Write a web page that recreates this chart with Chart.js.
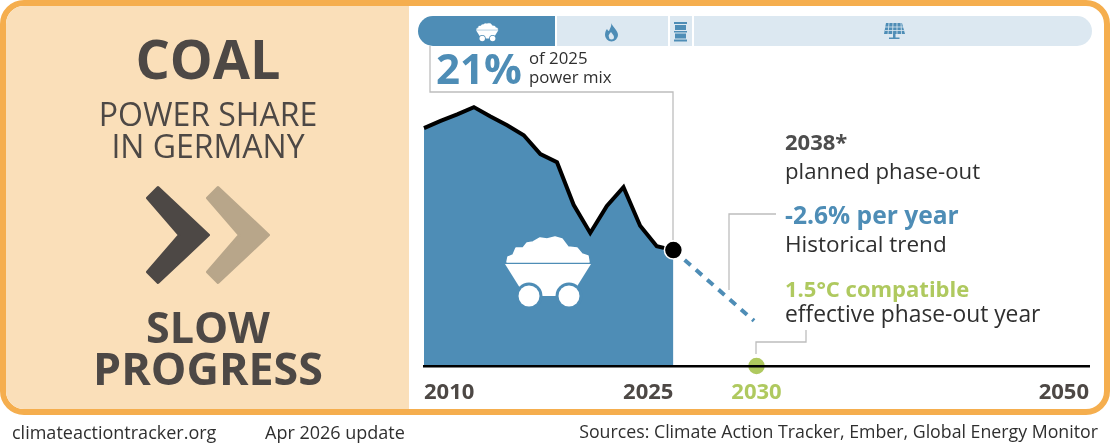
<!DOCTYPE html>
<html>
<head>
<meta charset="utf-8">
<script src="https://cdn.jsdelivr.net/npm/chart.js@4/dist/chart.umd.min.js"></script>
<style>
  html, body { margin: 0; padding: 0; background: #fff; }
  body { width: 1110px; height: 444px; position: relative; overflow: hidden; font-family: "Open Sans", sans-serif; color: #2f2f2f; }
  #frame { position: absolute; left: 0; top: 0; width: 1098px; height: 403px; border: 6px solid #f5ae4e; border-radius: 24px; overflow: hidden; background: #fff; }
  #panel { position: absolute; left: 0; top: 0; width: 403px; height: 403px; background: #fadfb9; }
  canvas { position: absolute; left: 0; top: 0; }
  svg.art { position: absolute; left: 0; top: 0; }
  .t { position: absolute; white-space: nowrap; line-height: 1; }
  .c { transform: translateX(-50%); text-align: center; }
  .head { color: #4d4845; font-weight: 700; }
  .sub { color: #4d4845; }
  .blue { color: #4e8db6; font-weight: 700; }
  .green { color: #afc95f; font-weight: 700; }
  .seg { position: absolute; top: 16px; height: 30px; background: #dce8f1; }
</style>
</head>
<body>
<div id="frame"><div id="panel"></div></div>

<div class="seg" style="left:418px;width:137px;background:#4e8db6;border-radius:15px 0 0 15px"></div>
<div class="seg" style="left:557px;width:111px"></div>
<div class="seg" style="left:670px;width:22px"></div>
<div class="seg" style="left:694px;width:398px;border-radius:0 15px 15px 0"></div>

<canvas id="chart" width="1110" height="444"></canvas>

<svg class="art" width="1110" height="444" viewBox="0 0 1110 444">
  <defs>
    <g id="cart">
      <polygon points="2,26 3,21 8,19 11,12 18,12 22,7 28,6 35,2 42,3 50,1 57,3 63,11 72,12 77,18 83,20 84,26" fill="#fff" stroke="#fff" stroke-width="1.5" stroke-linejoin="round"/>
      <polygon points="0,28 86,28 66,60 20,60" fill="#fff"/>
      <circle cx="24" cy="60" r="13.5" fill="#4e8db6"/>
      <circle cx="64" cy="60" r="13.5" fill="#4e8db6"/>
      <circle cx="24" cy="60" r="10.5" fill="#fff"/>
      <circle cx="64" cy="60" r="10.5" fill="#fff"/>
    </g>
  </defs>
  <polygon points="158,187.5 208.5,235 158,282.5 147.5,272 179.5,235 147.5,198" fill="#4d4845" stroke="#4d4845" stroke-width="3" stroke-linejoin="round"/>
  <polygon points="218,187.5 268.5,235 218,282.5 207.5,272 239.5,235 207.5,198" fill="#b8a68a" stroke="#b8a68a" stroke-width="3" stroke-linejoin="round"/>
  <use href="#cart" transform="translate(505,236)"/>
  <use href="#cart" transform="translate(476,23) scale(0.26)"/>
  <path d="M611 23 C613 27 618 31 618 35 A6.5 6.5 0 0 1 605 35 C605 32 606 30 607 29 C608 31 609 31 609 31 C610 28 612 26 611 23 Z M611 32 C609 34 608 36 609 37 A2.5 2.5 0 0 0 614 37 C614 35 612 34 611 32 Z" fill="#4e8db6" fill-rule="evenodd"/>
  <g fill="#4e8db6">
    <rect x="674" y="22" width="13" height="2"/><rect x="675" y="25" width="11" height="5"/>
    <rect x="674" y="31" width="13" height="1.5"/><rect x="675" y="33.5" width="11" height="5"/>
    <rect x="674" y="39.5" width="13" height="2"/>
    <path d="M886 23 H902 L905 34 H884 Z"/>
    <rect x="893" y="34" width="2.5" height="4"/><rect x="889" y="37.5" width="10.5" height="1.5"/>
  </g>
  <g stroke="#dce8f1" stroke-width="0.8">
    <path d="M889 23 L888 34 M893 23 L892.5 34 M897 23 L897 34 M901 23 L901.5 34 M885 27 H904 M885 30.5 H904" fill="none"/>
  </g>
  <g fill="none" stroke="#bdbdbd" stroke-width="1.3">
    <path d="M430 46 V92 H673 V240"/>
    <path d="M729 290 V214 H776"/>
    <path d="M756 354 V342 H806 V330"/>
  </g>
</svg>

<div class="t c head" style="left:208px;top:31px;font-size:54px">COAL</div>
<div class="t c sub" style="left:208px;top:98px;font-size:32px">POWER SHARE</div>
<div class="t c sub" style="left:208px;top:130px;font-size:32px">IN GERMANY</div>
<div class="t c head" style="left:208px;top:305px;font-size:43px">SLOW</div>
<div class="t c head" style="left:208px;top:346px;font-size:44.8px">PROGRESS</div>

<div class="t blue" style="left:436px;top:47px;font-size:42px">21%</div>
<div class="t" style="left:529px;top:50px;font-size:16.8px">of 2025</div>
<div class="t" style="left:529px;top:69px;font-size:16.8px">power mix</div>

<div class="t" style="left:785px;top:130px;font-size:22px;font-weight:700;color:#4d4d4d">2038*</div>
<div class="t" style="left:785px;top:160px;font-size:22.2px">planned phase-out</div>
<div class="t blue" style="left:785px;top:203px;font-size:24.6px">-2.6% per year</div>
<div class="t" style="left:785px;top:233px;font-size:22.5px">Historical trend</div>
<div class="t green" style="left:785px;top:277px;font-size:22px">1.5°C compatible</div>
<div class="t" style="left:785px;top:303px;font-size:22.8px">effective phase-out year</div>

<div class="t" style="left:12px;top:423px;font-size:18px">climateactiontracker.org</div>
<div class="t" style="left:265px;top:423px;font-size:18px">Apr 2026 update</div>
<div class="t" style="right:12px;top:423px;font-size:17.75px">Sources: Climate Action Tracker, Ember, Global Energy Monitor</div>

<script>
const years = [2010, 2011, 2012, 2013, 2014, 2015, 2016, 2017, 2018, 2019, 2020, 2021, 2022, 2023, 2024, 2025];
const coalShare = [43.1, 44.4, 45.6, 46.9, 45.2, 43.6, 41.8, 38.4, 36.9, 29.2, 24.1, 29.0, 32.4, 25.4, 21.7, 21.0];
const trendYears = [2025, 2029.85];
const trendShare = [21.0, 8.2];
const targetYear = [2030];
const targetShare = [0];
const tickYears = [2010, 2025, 2030, 2050];

const BLUE = '#4e8db6';
const GREEN = '#afc95f';
const DARK = '#4d4845';

function toPoints(xs, ys) {
    return xs.map((x, i) => ({ x: x, y: ys[i] }));
}

// chart.js has no per tick alignment, so the year labels are drawn here from the scale
const yearLabels = {
    id: 'yearLabels',
    afterDraw(chart) {
        const { ctx, scales } = chart;
        ctx.save();
        ctx.font = '700 22px "Open Sans"';
        ctx.textBaseline = 'alphabetic';
        for (const tick of scales.x.ticks) {
            const px = scales.x.getPixelForValue(tick.value);
            ctx.fillStyle = tick.value === targetYear[0] ? GREEN : DARK;
            ctx.textAlign = tick.value === 2010 ? 'left' : tick.value === 2025 || tick.value === 2050 ? 'right' : 'center';
            ctx.fillText(String(tick.value), px, 399);
        }
        ctx.restore();
    }
};

new Chart(document.getElementById('chart'), {
    type: 'line',
    data: {
        datasets: [
            {
                label: 'Target',
                data: toPoints(targetYear, targetShare),
                showLine: false,
                pointRadius: 9,
                pointBackgroundColor: GREEN,
                pointBorderColor: '#fff',
                pointBorderWidth: 1.5,
                clip: false,
                order: 0
            },
            {
                label: 'Coal share',
                data: toPoints(years, coalShare),
                borderColor: '#000',
                borderWidth: 4,
                borderJoinStyle: 'miter',
                backgroundColor: BLUE,
                fill: 'origin',
                tension: 0,
                pointRadius: (c) => c.dataIndex === years.length - 1 ? 9 : 0,
                pointBackgroundColor: '#000',
                pointBorderColor: '#fff',
                pointBorderWidth: 1.5,
                clip: false,
                order: 1
            },
            {
                label: 'Trend',
                data: toPoints(trendYears, trendShare),
                borderColor: BLUE,
                borderWidth: 4,
                borderDash: [8, 7],
                pointRadius: 0,
                fill: false,
                order: 2
            }
        ]
    },
    options: {
        responsive: false,
        animation: false,
        layout: { padding: { left: 424, right: 21, top: 90, bottom: 78 } },
        plugins: { legend: { display: false }, tooltip: { enabled: false } },
        scales: {
            x: {
                type: 'linear',
                min: 2010,
                max: 2050,
                afterBuildTicks: (axis) => { axis.ticks = tickYears.map((v) => ({ value: v })); },
                ticks: { display: false },
                grid: { display: false, drawTicks: false },
                border: { color: '#000', width: 2.5, z: 1 }
            },
            y: { display: false, min: 0, max: 50 }
        }
    },
    plugins: [yearLabels]
});
</script>
</body>
</html>
